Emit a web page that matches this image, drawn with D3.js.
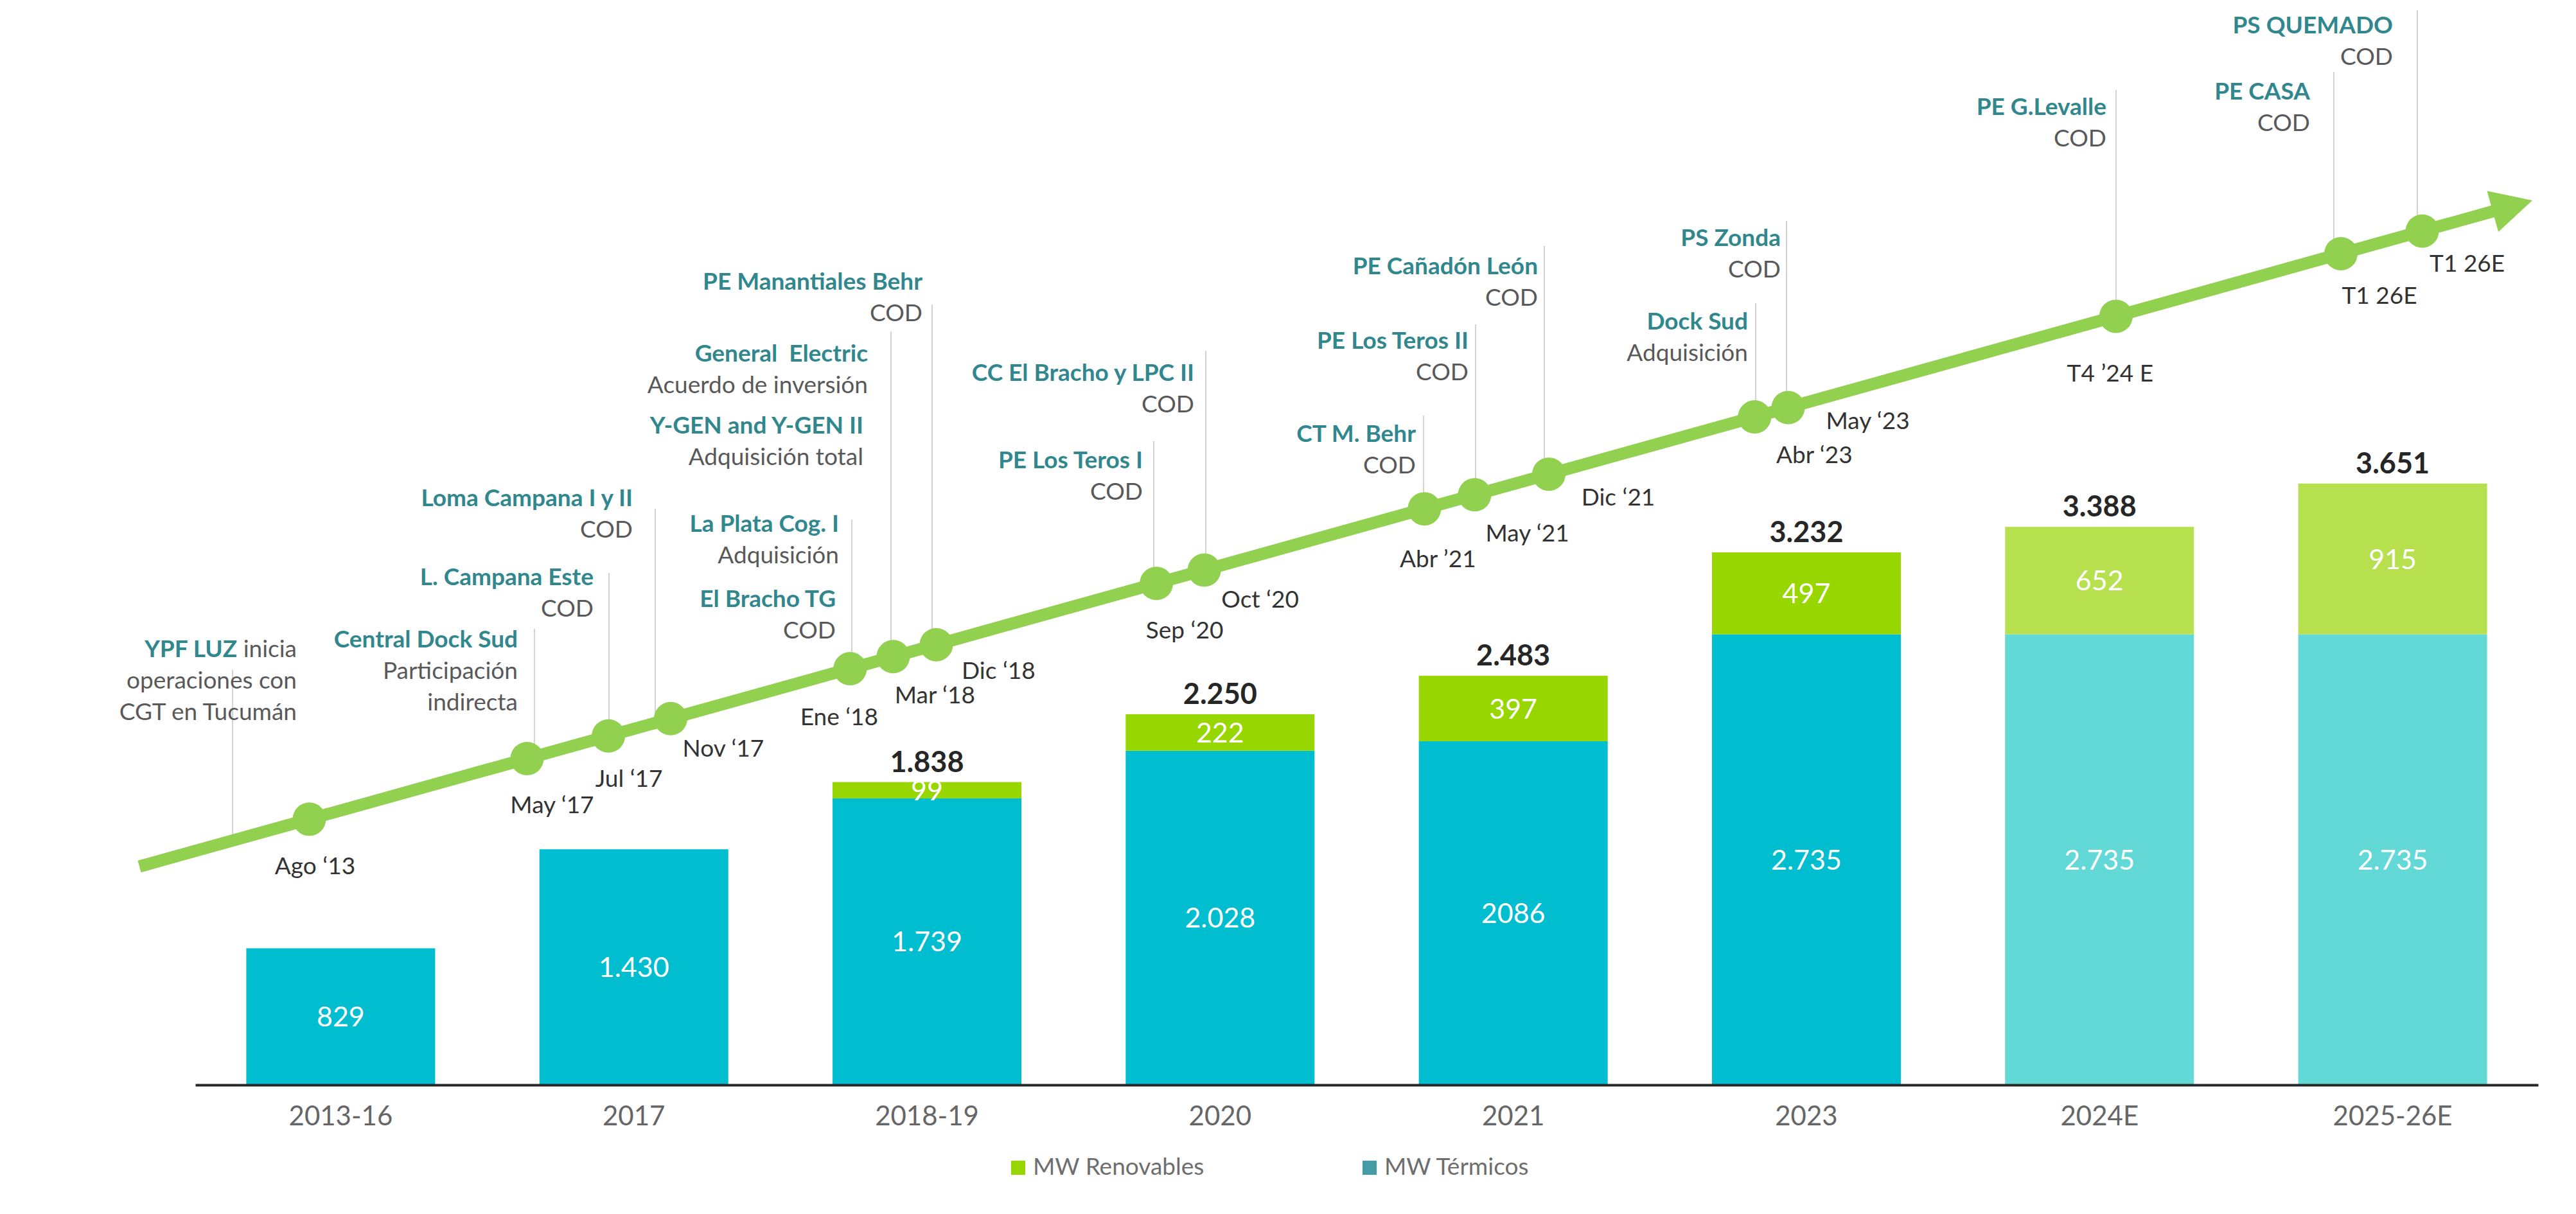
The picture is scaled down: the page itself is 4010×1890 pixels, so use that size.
<!DOCTYPE html>
<html>
<head>
<meta charset="utf-8">
<script src="https://cdn.jsdelivr.net/npm/d3@7"></script>
<style>
  html, body { margin: 0; padding: 0; background: #ffffff; }
  svg { display: block; font-family: Lato, "Open Sans", sans-serif; }
</style>
</head>
<body>
<svg id="chart" width="4010" height="1890"></svg>
<script>
// ---------------- DATA ----------------
const categories = ["2013-16", "2017", "2018-19", "2020", "2021", "2023", "2024E", "2025-26E"];
const termicos   = [829, 1430, 1739, 2028, 2086, 2735, 2735, 2735];
const renovables = [0, 0, 99, 222, 397, 497, 652, 915];
const totals     = [null, null, 1838, 2250, 2483, 3232, 3388, 3651];
const estimated  = [false, false, false, false, false, false, true, true];
const termicosLabels   = ["829", "1.430", "1.739", "2.028", "2086", "2.735", "2.735", "2.735"];
const renovablesLabels = ["", "", "99", "222", "397", "497", "652", "915"];
const totalLabels      = ["", "", "1.838", "2.250", "2.483", "3.232", "3.388", "3.651"];
const seriesNames = ["MW Renovables", "MW Térmicos"];

// timeline milestones (progress along the arrow, 0-100)
const milestoneDates = ["Ago ‘13", "May ‘17", "Jul ‘17", "Nov ‘17", "Ene ‘18", "Mar ‘18", "Dic ‘18",
  "Sep ‘20", "Oct ‘20", "Abr ’21", "May ‘21", "Dic ‘21", "Abr ‘23", "May ‘23", "T4 ’24 E", "T1 26E", "T1 26E"];
const milestoneProgress = [7.1, 16.2, 19.6, 22.2, 29.7, 31.5, 33.3, 42.5, 44.5, 53.7, 55.8, 58.9, 67.5, 68.9, 82.6, 92.0, 95.4];

// annotations attached to milestones
const annTitles = ["YPF LUZ", "Central Dock Sud", "L. Campana Este", "Loma Campana I y II", "La Plata Cog. I",
  "El Bracho TG", "General  Electric", "Y-GEN and Y-GEN II", "PE Manantiales Behr", "PE Los Teros I",
  "CC El Bracho y LPC II", "CT M. Behr", "PE Los Teros II", "PE Cañadón León", "Dock Sud", "PS Zonda",
  "PE G.Levalle", "PE CASA", "PS QUEMADO"];
const annTitleSuffix = [" inicia", "", "", "", "", "", "", "", "", "", "", "", "", "", "", "", "", "", ""];
const annSubtitles = [["operaciones con", "CGT en Tucumán"], ["Participación", "indirecta"], ["COD"], ["COD"],
  ["Adquisición"], ["COD"], ["Acuerdo de inversión"], ["Adquisición total"], ["COD"], ["COD"], ["COD"], ["COD"],
  ["COD"], ["COD"], ["Adquisición"], ["COD"], ["COD"], ["COD"], ["COD"]];
const annMilestone = [0, 1, 2, 3, 4, 4, 5, 5, 6, 7, 8, 9, 10, 11, 12, 13, 14, 15, 16];

// ---------------- LAYOUT (positions only) ----------------
const W = 4010, H = 1890;
const baseY = 1689;
const arrowStart = [217, 1349], arrowTip = [3942, 312];
const lineWidth = 19, dotR = 26, headLen = 64, headHalf = 33;
// date label offsets from dot centre
const dateOffsets = [[9,73],[39,72],[32,66],[82,46],[-17,75],[65,60],[97,40],[44,73],[87,46],[21,78],
  [82,60],[108,36],[93,59],[124,21],[-9,89],[60,65],[70,50]];
// leader line x / top per milestone
const leaders = [[362,1043],[832,979],[948,892],[1020,792],[1326,809],[1387,516],[1451,474],[1796,687],
  [1877,546],[2216,647],[2297,505],[2404,383],[2733,472],[2781,344],[3294,140],[3633,112],[3763,16]];
// annotation block right edge / first row centre
const annLayout = [[462,1010],[806,995],[924,898],[985,775],[1306,815],[1301,932],[1351,550],[1344,662],
  [1436,438],[1779,716],[1859,580],[2204,675],[2286,530],[2394,414],[2721,500],[2772,370],[3279,166],
  [3596,142],[3725,39]];
const rowGap = 49;

const colors = {
  term: "#00BDCF", termE: "#62D9D7", ren: "#98D600", renE: "#B6E04E",
  legendTerm: "#439CA6", legendRen: "#98D600",
  line: "#92D050", leader: "#C8C8C8", title: "#31878E", sub: "#595959", date: "#333333",
  total: "#262626", axis: "#262626", tick: "#666666", legendText: "#6E6E6E"
};

const svg = d3.select("#chart");
svg.append("rect").attr("width", W).attr("height", H).attr("fill", "#fff");

// ---------------- SCALES ----------------
const x = d3.scaleBand().domain(categories).range([304, 3951]).paddingInner(0.3557).paddingOuter(0.174);
const y = d3.scaleLinear().domain([0, 4000]).range([baseY, baseY - 4000 * 0.2565]);

const tx = d3.scaleLinear().domain([0, 100]).range([arrowStart[0], arrowTip[0]]);
const ty = d3.scaleLinear().domain([0, 100]).range([arrowStart[1], arrowTip[1]]);
const lineLen = Math.hypot(arrowTip[0] - arrowStart[0], arrowTip[1] - arrowStart[1]);
const ux = (arrowTip[0] - arrowStart[0]) / lineLen, uy = (arrowTip[1] - arrowStart[1]) / lineLen;
const yAtX = px => ty(tx.invert(px));

// ---------------- BARS ----------------
const barData = categories.map((c, i) => ({c, i, t: termicos[i], r: renovables[i], e: estimated[i]}));
const gBars = svg.append("g");
gBars.selectAll("rect.term").data(barData).join("rect")
  .attr("x", d => x(d.c)).attr("width", x.bandwidth())
  .attr("y", d => y(d.t)).attr("height", d => y(0) - y(d.t))
  .attr("fill", d => d.e ? colors.termE : colors.term);
gBars.selectAll("rect.ren").data(barData.filter(d => d.r > 0)).join("rect")
  .attr("x", d => x(d.c)).attr("width", x.bandwidth())
  .attr("y", d => y(d.t + d.r)).attr("height", d => y(d.t) - y(d.t + d.r))
  .attr("fill", d => d.e ? colors.renE : colors.ren);

const cx = d => x(d.c) + x.bandwidth() / 2;
gBars.selectAll("text.tl").data(barData).join("text")
  .attr("x", cx).attr("y", d => (y(0) + y(d.t)) / 2).attr("dy", "0.36em")
  .attr("text-anchor", "middle").attr("fill", "#fff").attr("font-size", 43)
  .text(d => termicosLabels[d.i]);
gBars.selectAll("text.rl").data(barData.filter(d => d.r > 0)).join("text")
  .attr("x", cx).attr("y", d => (y(d.t) + y(d.t + d.r)) / 2).attr("dy", "0.36em")
  .attr("text-anchor", "middle").attr("fill", "#fff").attr("font-size", 43)
  .text(d => renovablesLabels[d.i]);
gBars.selectAll("text.tot").data(barData.filter(d => totals[d.i] != null)).join("text")
  .attr("x", cx).attr("y", d => y(d.t + d.r) - 16)
  .attr("text-anchor", "middle").attr("fill", colors.total).attr("font-size", 45).attr("font-weight", 700)
  .text(d => totalLabels[d.i]);

// ---------------- AXIS ----------------
const gAxis = svg.append("g").attr("transform", `translate(0,${baseY})`)
  .call(d3.axisBottom(x).tickSize(0).tickSizeOuter(0).tickPadding(0));
gAxis.select(".domain").attr("stroke", colors.axis).attr("stroke-width", 4);
gAxis.selectAll("text").attr("y", 48).attr("dy", "0.36em")
  .attr("font-size", 42).attr("fill", colors.tick).attr("font-family", "Lato, sans-serif");

// ---------------- LEGEND ----------------
const legend = svg.append("g");
const legendX = [1574, 2121];
const legendCol = [colors.legendRen, colors.legendTerm];
seriesNames.forEach((n, i) => {
  legend.append("rect").attr("x", legendX[i]).attr("y", 1807).attr("width", 22).attr("height", 22).attr("fill", legendCol[i]);
  legend.append("text").attr("x", legendX[i] + 34).attr("y", 1829).attr("font-size", 37)
    .attr("fill", colors.legendText).text(n);
});

// ---------------- TIMELINE ----------------
const gT = svg.append("g");
// leader lines
gT.selectAll("line.leader").data(leaders).join("line")
  .attr("x1", d => d[0]).attr("x2", d => d[0])
  .attr("y1", d => d[1]).attr("y2", d => yAtX(d[0]))
  .attr("stroke", colors.leader).attr("stroke-width", 1.6);

// main arrow line
const baseT = 100 - (headLen - 2) / lineLen * 100;
gT.append("path")
  .attr("d", d3.line()([[tx(0), ty(0)], [tx(baseT), ty(baseT)]]))
  .attr("stroke", colors.line).attr("stroke-width", lineWidth).attr("fill", "none");
const bx = arrowTip[0] - ux * headLen, by = arrowTip[1] - uy * headLen;
gT.append("path")
  .attr("d", d3.line()([[arrowTip[0], arrowTip[1]], [bx - uy * headHalf, by + ux * headHalf], [bx + uy * headHalf, by - ux * headHalf]]) + "Z")
  .attr("fill", colors.line);

// dots
const msData = milestoneProgress.map((p, i) => ({p, i, date: milestoneDates[i]}));
gT.selectAll("circle.dot").data(msData).join("circle")
  .attr("cx", d => tx(d.p)).attr("cy", d => ty(d.p)).attr("r", dotR).attr("fill", colors.line);

// date labels
gT.selectAll("text.date").data(msData).join("text")
  .attr("x", d => tx(d.p) + dateOffsets[d.i][0])
  .attr("y", d => ty(d.p) + dateOffsets[d.i][1]).attr("dy", "0.35em")
  .attr("text-anchor", "middle").attr("font-size", 37).attr("fill", colors.date)
  .text(d => d.date);

// annotation blocks
annTitles.forEach((t, i) => {
  const [rx, ry] = annLayout[i];
  const g = gT.append("g");
  const tt = g.append("text").attr("x", rx).attr("y", ry).attr("dy", "0.35em")
    .attr("text-anchor", "end").attr("font-size", 37).style("white-space", "pre");
  tt.append("tspan").attr("font-weight", 700).attr("fill", colors.title).text(t);
  if (annTitleSuffix[i]) tt.append("tspan").attr("fill", colors.sub).text(annTitleSuffix[i]);
  annSubtitles[i].forEach((s, k) => {
    g.append("text").attr("x", rx).attr("y", ry + rowGap * (k + 1)).attr("dy", "0.35em")
      .attr("text-anchor", "end").attr("font-size", 37).attr("fill", colors.sub).text(s);
  });
});
</script>
</body>
</html>
